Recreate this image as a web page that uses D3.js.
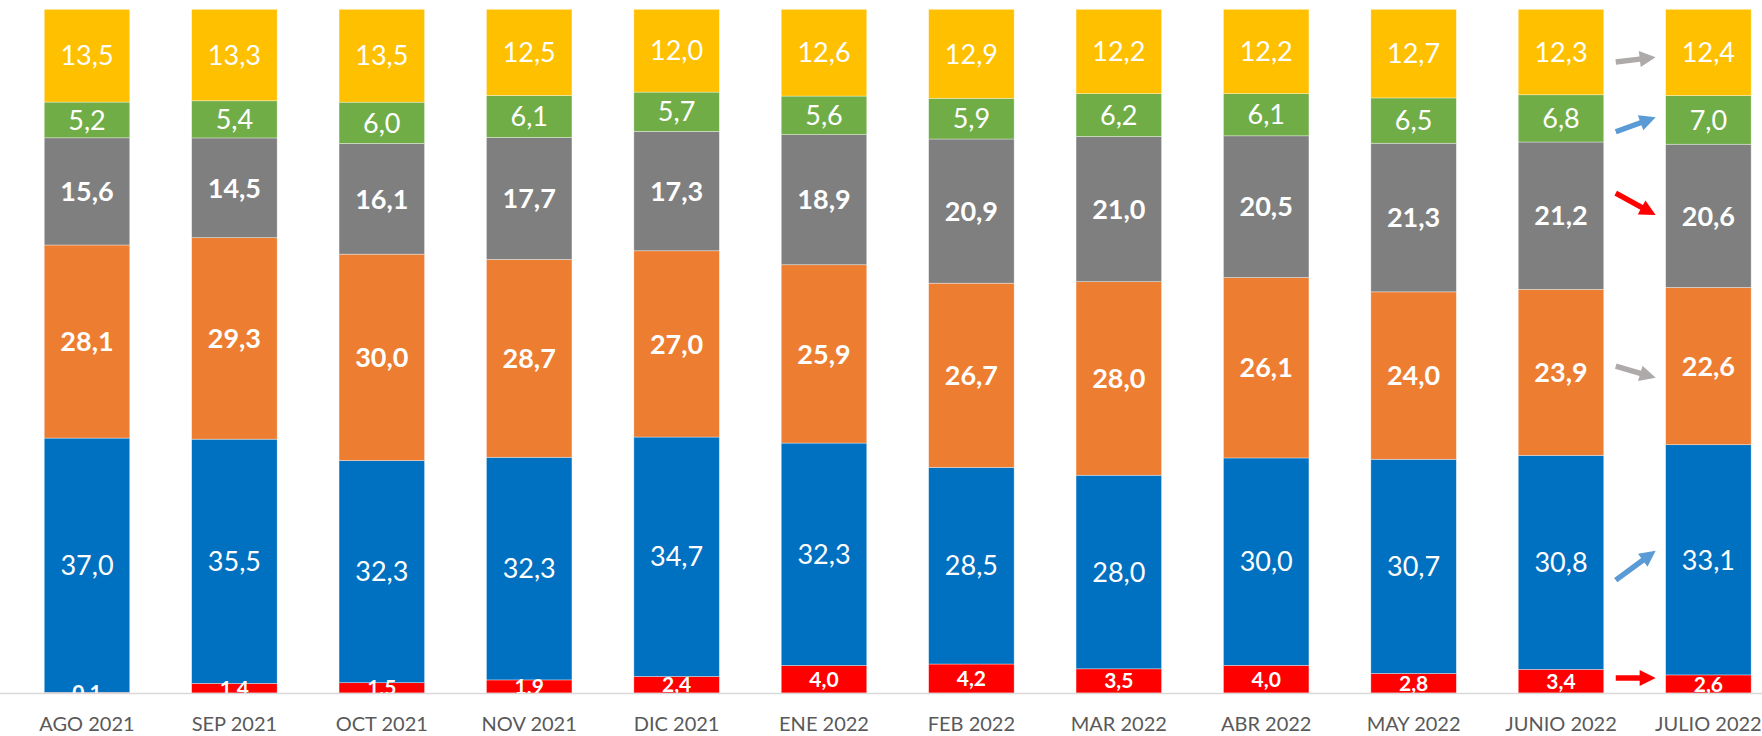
<!DOCTYPE html>
<meta charset="utf-8">
<script src="https://d3js.org/d3.v7.min.js"></script>
<style>
  body { margin: 0; background: #fff; }
  svg { display: block; font-family: Lato, "Open Sans", sans-serif; }
</style>
<div id="chart"></div>
<script>
// months (x categories)
var months = ["AGO 2021", "SEP 2021", "OCT 2021", "NOV 2021", "DIC 2021", "ENE 2022",
              "FEB 2022", "MAR 2022", "ABR 2022", "MAY 2022", "JUNIO 2022", "JULIO 2022"];

// series values, bottom to top
var rojo     = [0.1, 1.4, 1.5, 1.9, 2.4, 4.0, 4.2, 3.5, 4.0, 2.8, 3.4, 2.6];
var azul     = [37.0, 35.5, 32.3, 32.3, 34.7, 32.3, 28.5, 28.0, 30.0, 30.7, 30.8, 33.1];
var naranja  = [28.1, 29.3, 30.0, 28.7, 27.0, 25.9, 26.7, 28.0, 26.1, 24.0, 23.9, 22.6];
var gris     = [15.6, 14.5, 16.1, 17.7, 17.3, 18.9, 20.9, 21.0, 20.5, 21.3, 21.2, 20.6];
var verde    = [5.2, 5.4, 6.0, 6.1, 5.7, 5.6, 5.9, 6.2, 6.1, 6.5, 6.8, 7.0];
var amarillo = [13.5, 13.3, 13.5, 12.5, 12.0, 12.6, 12.9, 12.2, 12.2, 12.7, 12.3, 12.4];

var keys = ["rojo", "azul", "naranja", "gris", "verde", "amarillo"];
var seriesData = {rojo: rojo, azul: azul, naranja: naranja, gris: gris, verde: verde, amarillo: amarillo};
var colors = {rojo: "#ff0000", azul: "#0070c0", naranja: "#ed7d31", gris: "#7f7f7f", verde: "#70ad47", amarillo: "#ffc000"};
var bold = {rojo: true, azul: false, naranja: true, gris: true, verde: false, amarillo: false};

// trend arrows between the last two bars (y in % of the bar height)
var arrows = [
  {y0: 92.3, y1: 93.0, color: "#aeaaaa"},
  {y0: 82.1, y1: 84.2, color: "#5b9bd5"},
  {y0: 73.1, y1: 69.9, color: "#ff0000"},
  {y0: 47.8, y1: 46.1, color: "#aeaaaa"},
  {y0: 16.5, y1: 20.8, color: "#5b9bd5"},
  {y0: 2.2,  y1: 2.2,  color: "#ff0000"}
];

var width = 1762, height = 736;
var base = 693, top_ = 9.3;

// rows normalised to 100% (100% stacked columns)
var rows = months.map(function(m, i) {
  var row = {month: m};
  var total = d3.sum(keys, function(k) { return seriesData[k][i]; });
  keys.forEach(function(k) { row[k] = seriesData[k][i] / total * 100; row[k + "_v"] = seriesData[k][i]; });
  return row;
});

var stacked = d3.stack().keys(keys)(rows);

var x = d3.scaleBand()
  .domain(months)
  .range([13.3, 1782.1])
  .paddingInner(0.42)
  .paddingOuter(0.21);

var y = d3.scaleLinear()
  .domain([0, 100])
  .range([base, top_]);

var svg = d3.select("#chart").append("svg")
  .attr("width", width)
  .attr("height", height);

svg.append("defs").append("clipPath").attr("id", "plot")
  .append("rect").attr("x", 0).attr("y", 0).attr("width", width).attr("height", base);

// bars
var layer = svg.append("g").selectAll("g")
  .data(stacked)
  .enter().append("g")
    .attr("fill", function(d) { return colors[d.key]; });

layer.selectAll("rect")
  .data(function(d) { return d; })
  .enter().append("rect")
    .attr("x", function(d) { return x(d.data.month); })
    .attr("y", function(d) { return y(d[1]); })
    .attr("width", x.bandwidth())
    .attr("height", function(d) { return y(d[0]) - y(d[1]); })
    .attr("stroke", "#fff")
    .attr("stroke-width", 0.7)
    .attr("stroke-opacity", 0.5);

// value labels
var fmt = function(v) { return d3.format(".1f")(v).replace(".", ","); };
var labels = svg.append("g").attr("clip-path", "url(#plot)");
stacked.forEach(function(s) {
  labels.selectAll(null)
    .data(s)
    .enter().append("text")
      .attr("x", function(d) { return x(d.data.month) + x.bandwidth() / 2; })
      .attr("y", function(d) { return y((d[0] + d[1]) / 2); })
      .attr("dy", "0.36em")
      .attr("text-anchor", "middle")
      .attr("fill", "#fff")
      .attr("font-size", s.key === "rojo" ? 21 : 27)
      .attr("font-weight", bold[s.key] ? "bold" : "normal")
      .text(function(d) { return fmt(d.data[s.key + "_v"]); });
});

// x axis
var xAxis = svg.append("g")
  .attr("transform", "translate(0," + base + ")")
  .call(d3.axisBottom(x).tickSize(0).tickPadding(24));
xAxis.select(".domain").attr("stroke", "#d9d9d9").attr("stroke-width", 1.3)
  .attr("d", "M0,0.5H" + width);
xAxis.selectAll("text")
  .attr("font-family", "Lato, 'Open Sans', sans-serif")
  .attr("font-size", 20)
  .attr("fill", "#595959");

// arrows
var last = months[months.length - 1], prev = months[months.length - 2];
var ax0 = x(prev) + x.bandwidth() + 12, ax1 = x(last) - 10;
var ag = svg.append("g");
arrows.forEach(function(a) {
  var X0 = ax0, Y0 = y(a.y0), X1 = ax1, Y1 = y(a.y1);
  var ang = Math.atan2(Y1 - Y0, X1 - X0);
  var hl = 16, hw = 8, sw = 2.7;
  var bx = X1 - hl * Math.cos(ang), by = Y1 - hl * Math.sin(ang);
  var nx = -Math.sin(ang), ny = Math.cos(ang);
  ag.append("path")
    .attr("fill", a.color)
    .attr("d", d3.line()([
      [X0 + nx * sw, Y0 + ny * sw],
      [bx + nx * sw, by + ny * sw],
      [bx + nx * hw, by + ny * hw],
      [X1, Y1],
      [bx - nx * hw, by - ny * hw],
      [bx - nx * sw, by - ny * sw],
      [X0 - nx * sw, Y0 - ny * sw]
    ]) + "Z");
});
</script>
